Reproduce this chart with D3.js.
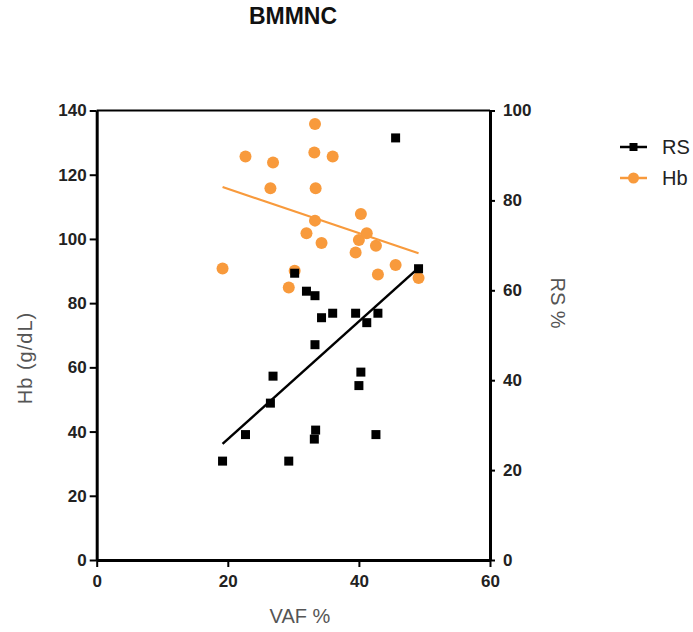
<!DOCTYPE html>
<html>
<head>
<meta charset="utf-8">
<script src="https://cdn.jsdelivr.net/npm/d3@7"></script>
<style>
  body { margin: 0; background: #fff; }
  svg { display: block; font-family: "Liberation Sans", Arial, sans-serif; }
  .axis path, .axis line { stroke: #000; }
  .axis path { stroke-width: 3; }
  .axis line { stroke-width: 2; }
  .axis text { font-size: 17px; font-weight: bold; fill: #222; }
  .lbl { font-size: 20px; fill: #555; }
</style>
</head>
<body>
<div id="chart"></div>
<script>
// VAF % per sample (shared x for both series)
var vaf = [19.2, 22.7, 26.5, 26.9, 29.3, 30.2, 32.0, 33.2, 33.3, 33.3, 33.4,
           34.3, 36.0, 39.5, 40.0, 40.3, 41.2, 42.6, 42.9, 45.6, 49.1];
// Hb (g/dL), left axis
var hb = [90.8, 125.7, 115.8, 123.8, 84.9, 90.1, 101.8, 126.9, 135.8, 105.7, 115.8,
          98.7, 125.7, 95.8, 99.7, 107.8, 101.8, 97.9, 88.9, 91.9, 87.8];
// RS %, right axis
var rs = [22.0, 27.9, 34.9, 40.9, 22.0, 63.8, 59.8, 26.9, 58.8, 47.9, 28.9,
          53.9, 54.9, 54.9, 38.8, 41.8, 52.8, 27.9, 54.9, 93.9, 64.8];

var xTicks = [0, 20, 40, 60];
var hbTicks = [0, 20, 40, 60, 80, 100, 120, 140];
var rsTicks = [0, 20, 40, 60, 80, 100];
var seriesNames = ["RS", "Hb"];

var W = 693, H = 632;
var orange = "#f89a3c";

var svg = d3.select("#chart").append("svg")
    .attr("width", W)
    .attr("height", H);

var x = d3.scaleLinear().domain([0, 60]).range([96.7, 490]);
var yL = d3.scaleLinear().domain([0, 140]).range([560, 110.5]);
var yR = d3.scaleLinear().domain([0, 100]).range([560, 110.5]);

// least squares fit
function fit(xs, ys) {
    var mx = d3.mean(xs), my = d3.mean(ys);
    var sxy = 0, sxx = 0;
    for (var i = 0; i < xs.length; i++) {
        sxy += (xs[i] - mx) * (ys[i] - my);
        sxx += (xs[i] - mx) * (xs[i] - mx);
    }
    var b = sxy / sxx;
    return { b: b, a: my - b * mx };
}

// top frame line
svg.append("line")
    .attr("x1", x(0)).attr("x2", x(60))
    .attr("y1", yL(140)).attr("y2", yL(140))
    .attr("stroke", "#000").attr("stroke-width", 2);

svg.append("g")
    .attr("class", "axis")
    .attr("transform", "translate(" + x(0) + ",0)")
    .call(d3.axisLeft(yL).tickValues(hbTicks).tickSize(7).tickSizeOuter(0).tickPadding(3));

svg.append("g")
    .attr("class", "axis")
    .attr("transform", "translate(" + x(60) + ",0)")
    .call(d3.axisRight(yR).tickValues(rsTicks).tickSize(5).tickSizeOuter(0).tickPadding(8));

svg.append("g")
    .attr("class", "axis")
    .attr("transform", "translate(0," + yL(0) + ")")
    .call(d3.axisBottom(x).tickValues(xTicks).tickSize(7).tickSizeOuter(0).tickPadding(8));

// Hb points + fit
var xr = d3.extent(vaf);
var fHb = fit(vaf, hb);
svg.append("line")
    .attr("x1", x(xr[0])).attr("y1", yL(fHb.a + fHb.b * xr[0]))
    .attr("x2", x(xr[1])).attr("y2", yL(fHb.a + fHb.b * xr[1]))
    .attr("stroke", orange).attr("stroke-width", 2.2);

svg.selectAll("circle.hb")
    .data(vaf)
    .enter()
    .append("circle")
    .attr("class", "hb")
    .attr("cx", function (d) { return x(d); })
    .attr("cy", function (d, i) { return yL(hb[i]); })
    .attr("r", 6)
    .attr("fill", orange);

// RS points + fit
var fRs = fit(vaf, rs);
svg.append("line")
    .attr("x1", x(xr[0])).attr("y1", yR(fRs.a + fRs.b * xr[0]))
    .attr("x2", x(xr[1])).attr("y2", yR(fRs.a + fRs.b * xr[1]))
    .attr("stroke", "#000").attr("stroke-width", 2.5);

svg.selectAll("rect.rs")
    .data(vaf)
    .enter()
    .append("rect")
    .attr("class", "rs")
    .attr("x", function (d) { return x(d) - 4.5; })
    .attr("y", function (d, i) { return yR(rs[i]) - 4.5; })
    .attr("width", 9)
    .attr("height", 9)
    .attr("fill", "#000");

// titles
svg.append("text")
    .attr("x", 293).attr("y", 24)
    .attr("text-anchor", "middle")
    .style("font-size", "23px").style("font-weight", "bold").attr("fill", "#111")
    .text("BMMNC");

svg.append("text")
    .attr("class", "lbl")
    .attr("x", 300).attr("y", 623)
    .attr("text-anchor", "middle")
    .text("VAF %");

svg.append("text")
    .attr("class", "lbl")
    .attr("transform", "translate(32,358) rotate(-90)")
    .attr("text-anchor", "middle")
    .style("letter-spacing", "1px")
    .text("Hb (g/dL)");

svg.append("text")
    .attr("class", "lbl")
    .attr("transform", "translate(551,303) rotate(90)")
    .attr("text-anchor", "middle")
    .text("RS %");

// legend
var leg = svg.selectAll("g.leg")
    .data(seriesNames)
    .enter()
    .append("g")
    .attr("class", "leg")
    .attr("transform", function (d, i) { return "translate(620," + (147 + i * 31) + ")"; });

leg.append("line")
    .attr("x1", 0).attr("x2", 27)
    .attr("stroke", function (d, i) { return i === 0 ? "#000" : orange; })
    .attr("stroke-width", 2.5);

leg.each(function (d, i) {
    var g = d3.select(this);
    if (i === 0) {
        g.append("rect").attr("x", 9.5).attr("y", -4).attr("width", 8).attr("height", 8).attr("fill", "#000");
    } else {
        g.append("circle").attr("cx", 13.5).attr("r", 5.5).attr("fill", orange);
    }
});

leg.append("text")
    .attr("x", 42).attr("y", 0).attr("dy", "0.35em")
    .style("font-size", "20px").attr("fill", "#222")
    .text(function (d) { return d; });
</script>
</body>
</html>
